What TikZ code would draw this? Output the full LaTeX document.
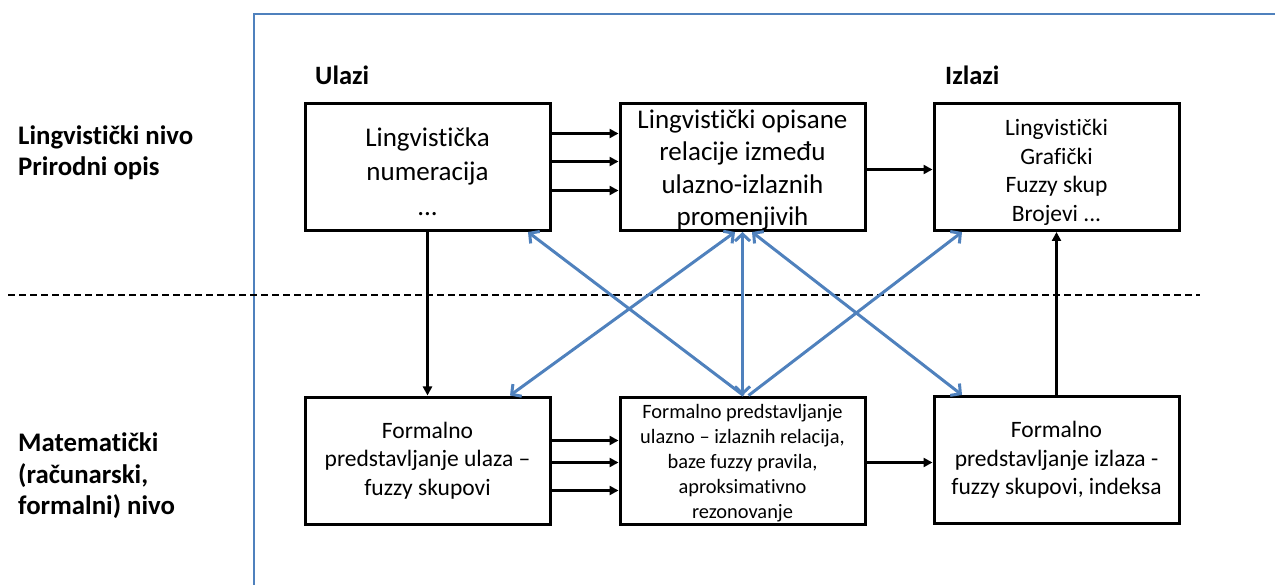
\documentclass[tikz,border=0pt]{standalone}
\usepackage{fontspec}
\setmainfont{Carlito}[Ligatures=NoCommon]
\usetikzlibrary{arrows.meta}
\definecolor{linkblue}{HTML}{4F81BD}
\newcommand\setfs[2]{\fontsize{#1pt}{#2pt}\selectfont}
% taller first line pushes a centred text block down a little
\newcommand\toprule[1]{\rule{0pt}{#1}}
\tikzset{
  box/.style={draw=black, line width=3pt, minimum width=245pt, minimum height=127pt,
    inner sep=0pt, align=center},
  boxtext/.style={inner sep=0pt, align=center},
  flow/.style={line width=3pt, -{Triangle[length=9pt,width=9pt]}},
  link/.style={draw=linkblue, line width=3pt,
    {Straight Barb[length=7pt,width=15pt]}-{Straight Barb[length=7pt,width=15pt]}},
  linkone/.style={draw=linkblue, line width=3pt, -{Straight Barb[length=7pt,width=15pt]}},
  level/.style={anchor=west, align=left, inner sep=0pt, font=\bfseries\setfs{26.8}{31.5}},
  head/.style={anchor=west, inner sep=0pt, font=\bfseries\setfs{26.5}{31}},
}
\begin{document}
\begin{tikzpicture}[x=1pt, y=-1pt]
  \useasboundingbox (0,0) rectangle (1275,585);

  % frame and level separator
  \coordinate (fb) at (254,585);
  \coordinate (fc) at (254,14);
  \coordinate (fr) at (1275,14);
  \draw[linkblue, line width=2.5pt] (fb) -- (fc) -- (fr);
  \coordinate (sl) at (8,295);
  \coordinate (sr) at (1200,295);
  \draw[line width=1.4pt, dash pattern=on 7pt off 4pt] (sl) -- (sr);

  % level labels
  \node[level] (lvl1) at (18,152.5) {Lingvistički nivo\\Prirodni opis};
  \node[level] (lvl2) at (18,476) {Matematički\\(računarski,\\formalni) nivo};
  \node[head] (in) at (315,75) {Ulazi};
  \node[head] (out) at (945,75) {Izlazi};

  % boxes
  \node[box, font=\setfs{27}{34}] (A) at (427.5,167) {\toprule{29pt}Lingvistička\\numeracija\\[1pt]...};
  \node[box] (B) at (742.5,167) {};
  \node[boxtext, font=\setfs{27}{32.5}] (Bt) at ([yshift=-3pt]B.center) {Lingvistički opisane\\relacije između\\ulazno-izlaznih\\promenjivih};
  \node[box, font=\setfs{23.5}{28.5}] (C) at (1056.5,167) {\toprule{27pt}Lingvistički\\Grafički\\Fuzzy skup\\Brojevi ...};
  \node[box, font=\setfs{23.5}{28.5}] (D) at (427.5,460.5) {Formalno\\predstavljanje ulaza --\\fuzzy skupovi};
  \node[box, font=\setfs{20.4}{25}] (E) at (742.5,460.5) {\toprule{19pt}Formalno predstavljanje\\ulazno -- izlaznih relacija,\\baze fuzzy pravila,\\aproksimativno\\rezonovanje};
  \node[box, font=\setfs{23.5}{28.5}] (F) at (1056.5,460) {Formalno\\predstavljanje izlaza -\\fuzzy skupovi, indeksa};

  % black flow arrows
  \draw[flow] ([yshift=33.5pt]A.east) -- ([yshift=33.5pt]B.west);
  \draw[flow] ([yshift=5.5pt]A.east) -- ([yshift=5.5pt]B.west);
  \draw[flow] ([yshift=-23.5pt]A.east) -- ([yshift=-23.5pt]B.west);
  \draw[flow] ([yshift=-2.5pt]B.east) -- ([yshift=-2.5pt]C.west);
  \draw[flow] ([yshift=20pt]D.east) -- ([yshift=20pt]E.west);
  \draw[flow] ([yshift=-2pt]D.east) -- ([yshift=-2pt]E.west);
  \draw[flow] ([yshift=-30pt]D.east) -- ([yshift=-30pt]E.west);
  \draw[flow] ([yshift=-2pt]E.east) -- ([yshift=-2pt]E.east -| F.west);
  \draw[flow] (A.south) -- (D.north);
  \draw[flow] (F.north) -- (C.south);

  % blue links between the levels
  \draw[link] ([xshift=82.5pt]D.north) -- ([xshift=-7.5pt]B.south);
  \draw[link] (B.south) -- (E.north);
  \draw[link] ([xshift=9.5pt]B.south) -- ([xshift=-94.5pt]F.north);
  \draw[linkone] ([xshift=1pt]E.north) -- ([xshift=100.5pt]A.south);
  \draw[linkone] ([xshift=6pt]E.north) -- ([xshift=-94.5pt]C.south);
\end{tikzpicture}
\end{document}
